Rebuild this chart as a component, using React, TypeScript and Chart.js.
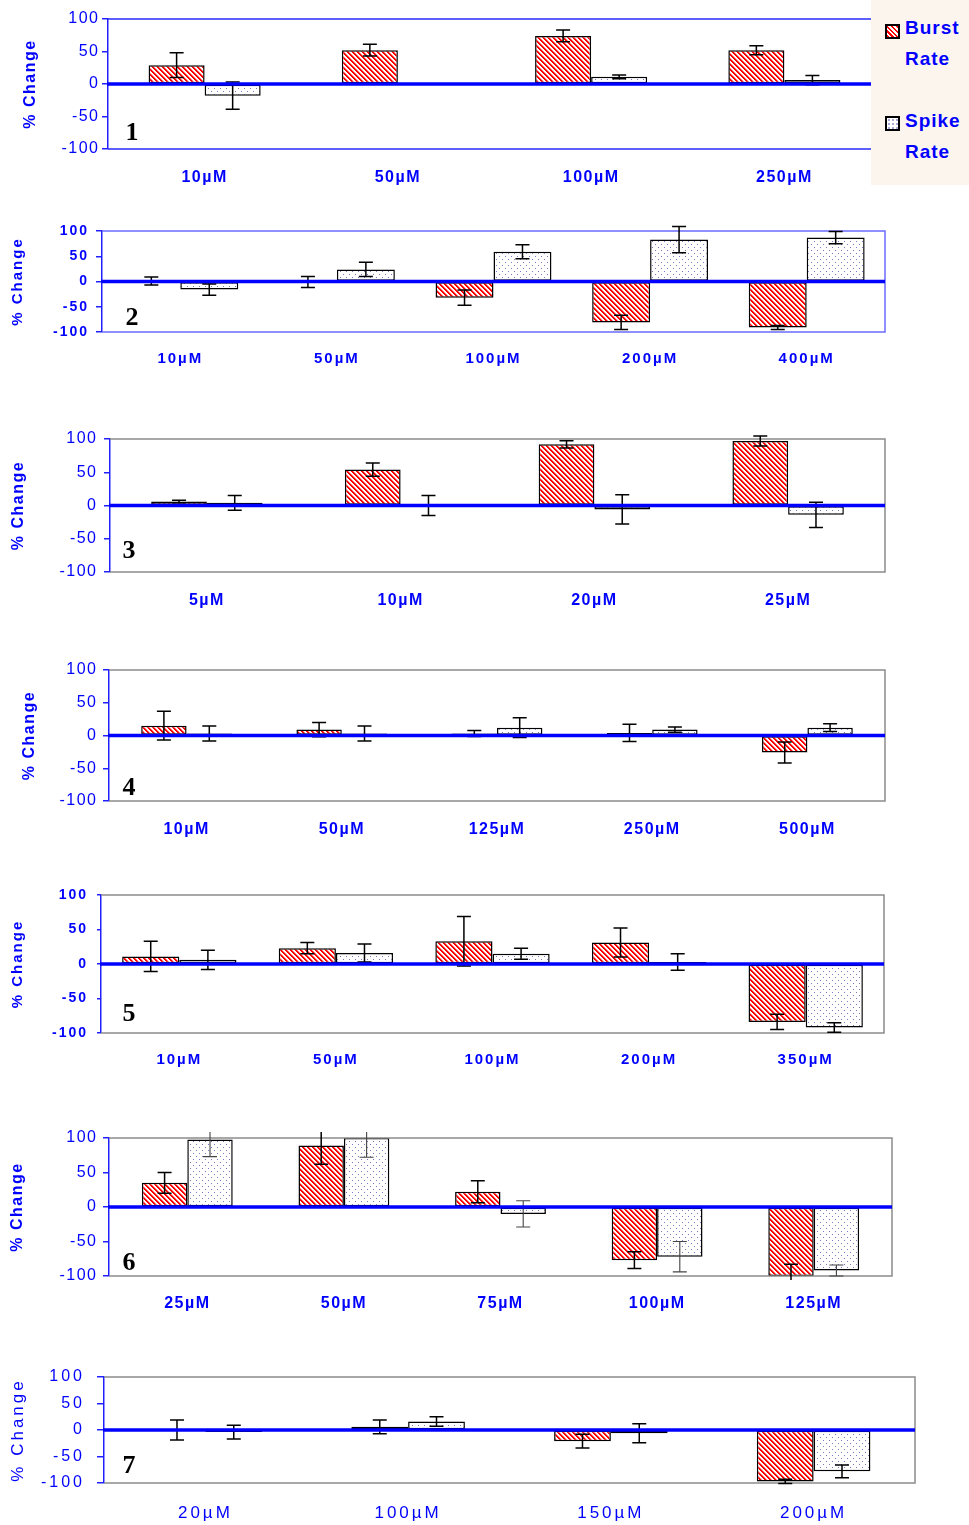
import React, { useEffect, useRef } from 'react';
import { Chart, registerables } from 'chart.js';

Chart.register(...registerables);

// ---- data -------------------------------------------------------------
const seriesNames = ['Burst Rate', 'Spike Rate'];
const yTickStep = 50;
const yMin = -100;
const yMax = 100;
const yTitle = '% Change';

// Panel 1
const doses1 = ['10µM', '50µM', '100µM', '250µM'];
const burst1 = [29, 52, 74, 52];
const burstErr1 = [19, 9, 9, 7];
const spike1 = [-18, 0, 11, 6];
const spikeErr1 = [21, 0, 3, 7];

// Panel 2
const doses2 = ['10µM', '50µM', '100µM', '200µM', '400µM'];
const burst2 = [1, -1, -32, -81, -91];
const burstErr2 = [8, 11, 15, 14, 4];
const spike2 = [-16, 24, 59, 83, 87];
const spikeErr2 = [11, 14, 14, 26, 12];

// Panel 3
const doses3 = ['5µM', '10µM', '20µM', '25µM'];
const burst3 = [6, 54, 92, 97];
const burstErr3 = [2, 10, 5.5, 7.5];
const spike3 = [4, 0, -6, -14];
const spikeErr3 = [11, 15, 22, 19];

// Panel 4
const doses4 = ['10µM', '50µM', '125µM', '250µM', '500µM'];
const burst4 = [15, 9, 3, 4, -26];
const burstErr4 = [22, 11, 4.5, 13, 16];
const spike4 = [3, 3, 12, 9, 12];
const spikeErr4 = [11.5, 11.5, 15, 4, 6];

// Panel 5
const doses5 = ['10µM', '50µM', '100µM', '200µM', '350µM'];
const burst5 = [11, 23, 33, 31, -84];
const burstErr5 = [22, 8, 36, 21, 11];
const spike5 = [6, 16, 15, 3, -92];
const spikeErr5 = [14, 13, 8, 12, 7];

// Panel 6
const doses6 = ['25µM', '50µM', '75µM', '100µM', '125µM'];
const burst6 = [35, 89, 22, -77, -100];
const burstErr6 = [15, 27, 16, 12, 17];
const spike6 = [98, 100, -10, -72, -92];
const spikeErr6 = [25, 28, 19, 22, 8];

// Panel 7
const doses7 = ['20µM', '100µM', '150µM', '200µM'];
const burst7 = [0, 6, -21, -97];
const burstErr7 = [19, 13, 13, 4];
const spike7 = [-4, 16, -6, -78];
const spikeErr7 = [13, 9, 18, 12];

// ---- styling / layout -------------------------------------------------
const BLUE = '#0000ff';
const AXIS_BLUE = '#2020ff';
const GRAY = '#8c8c8c';
const FONT = 'Arial, "Liberation Sans", Helvetica, sans-serif';
const PAGE_W = 969;

type Panel = {
  id: number;
  doses: string[];
  burst: number[];
  burstErr: number[];
  spike: number[];
  spikeErr: number[];
  top: number;
  height: number;
  left: number;
  plotTop: number;
  right: number;
  bottom: number;
  labelY: number;
  titleX: number;
  num: [number, number];
  frame: string;
  frameRight: boolean;
  tickSize: number;
  tickWeight: string;
  tickLen: number;
  tickRight: number;
  xSize: number;
  xWeight: string;
  titleSize: number;
  titleWeight: string;
  spacing: number;
  group: number;
  spikeErrColor: string;
  spikeErrWidth: number;
};

const panels: Panel[] = [
  {
    id: 1, doses: doses1, burst: burst1, burstErr: burstErr1, spike: spike1, spikeErr: spikeErr1,
    top: 0, height: 195, left: 108, plotTop: 19, right: 881, bottom: 149, labelY: 177,
    titleX: 31, num: [132, 133], frame: '#2b2bff', frameRight: false,
    tickSize: 16, tickWeight: 'normal', tickLen: 6, tickRight: 98,
    xSize: 16, xWeight: 'bold', titleSize: 16, titleWeight: 'bold', spacing: 1.5, group: 0.58,
    spikeErrColor: '#000', spikeErrWidth: 1.5,
  },
  {
    id: 2, doses: doses2, burst: burst2, burstErr: burstErr2, spike: spike2, spikeErr: spikeErr2,
    top: 195, height: 185, left: 102, plotTop: 231, right: 885, bottom: 332, labelY: 358,
    titleX: 18, num: [132, 318], frame: '#6b6bff', frameRight: true,
    tickSize: 14, tickWeight: 'bold', tickLen: 6, tickRight: 87,
    xSize: 15, xWeight: 'bold', titleSize: 15, titleWeight: 'bold', spacing: 2, group: 0.74,
    spikeErrColor: '#000', spikeErrWidth: 1.5,
  },
  {
    id: 3, doses: doses3, burst: burst3, burstErr: burstErr3, spike: spike3, spikeErr: spikeErr3,
    top: 380, height: 240, left: 110, plotTop: 439, right: 885, bottom: 572, labelY: 600,
    titleX: 19, num: [129, 551], frame: GRAY, frameRight: true,
    tickSize: 16, tickWeight: 'normal', tickLen: 6, tickRight: 96,
    xSize: 16, xWeight: 'bold', titleSize: 16, titleWeight: 'bold', spacing: 1.5, group: 0.575,
    spikeErrColor: '#000', spikeErrWidth: 1.5,
  },
  {
    id: 4, doses: doses4, burst: burst4, burstErr: burstErr4, spike: spike4, spikeErr: spikeErr4,
    top: 620, height: 230, left: 109, plotTop: 670, right: 885, bottom: 801, labelY: 829,
    titleX: 30, num: [129, 788], frame: GRAY, frameRight: true,
    tickSize: 16, tickWeight: 'normal', tickLen: 6, tickRight: 96,
    xSize: 16, xWeight: 'bold', titleSize: 16, titleWeight: 'bold', spacing: 1.5, group: 0.585,
    spikeErrColor: '#000', spikeErrWidth: 1.5,
  },
  {
    id: 5, doses: doses5, burst: burst5, burstErr: burstErr5, spike: spike5, spikeErr: spikeErr5,
    top: 850, height: 230, left: 101, plotTop: 895, right: 884, bottom: 1033, labelY: 1059,
    titleX: 18, num: [129, 1014], frame: GRAY, frameRight: true,
    tickSize: 14, tickWeight: 'bold', tickLen: 4, tickRight: 86,
    xSize: 15, xWeight: 'bold', titleSize: 15, titleWeight: 'bold', spacing: 2, group: 0.73,
    spikeErrColor: '#000', spikeErrWidth: 1.5,
  },
  {
    id: 6, doses: doses6, burst: burst6, burstErr: burstErr6, spike: spike6, spikeErr: spikeErr6,
    top: 1080, height: 245, left: 109, plotTop: 1138, right: 892, bottom: 1276, labelY: 1303,
    titleX: 18, num: [129, 1263], frame: GRAY, frameRight: true,
    tickSize: 16, tickWeight: 'normal', tickLen: 6, tickRight: 96,
    xSize: 16, xWeight: 'bold', titleSize: 16, titleWeight: 'bold', spacing: 1.5, group: 0.58,
    spikeErrColor: '#444', spikeErrWidth: 1.1,
  },
  {
    id: 7, doses: doses7, burst: burst7, burstErr: burstErr7, spike: spike7, spikeErr: spikeErr7,
    top: 1325, height: 200, left: 104, plotTop: 1377, right: 915, bottom: 1483, labelY: 1512,
    titleX: 18, num: [129, 1466], frame: GRAY, frameRight: true,
    tickSize: 16, tickWeight: 'normal', tickLen: 7, tickRight: 82,
    xSize: 17, xWeight: 'normal', titleSize: 17, titleWeight: 'normal', spacing: 3, group: 0.56,
    spikeErrColor: '#000', spikeErrWidth: 1.5,
  },
];

// ---- fill patterns ----------------------------------------------------
function makeHatch(): CanvasPattern | string {
  const s = 5;
  const c = document.createElement('canvas');
  c.width = s;
  c.height = s;
  const g = c.getContext('2d');
  if (!g) return '#ff0000';
  const img = g.createImageData(s, s);
  for (let y = 0; y < s; y++) {
    for (let x = 0; x < s; x++) {
      const d = (((x - y) % s) + s) % s;
      const i = (y * s + x) * 4;
      let r = 255, gg = 255, b = 255;
      if (d < 2) { r = 255; gg = 0; b = 0; }
      else if (d === 2) { r = 255; gg = 140; b = 140; }
      img.data[i] = r; img.data[i + 1] = gg; img.data[i + 2] = b; img.data[i + 3] = 255;
    }
  }
  g.putImageData(img, 0, 0);
  return g.createPattern(c, 'repeat') || '#ff0000';
}

function makeDots(): CanvasPattern | string {
  const s = 6;
  const c = document.createElement('canvas');
  c.width = s;
  c.height = s;
  const g = c.getContext('2d');
  if (!g) return '#ffffff';
  g.fillStyle = '#ffffff';
  g.fillRect(0, 0, s, s);
  g.fillStyle = '#7a7ac4';
  g.fillRect(1, 1, 1, 1);
  g.fillRect(4, 4, 1, 1);
  return g.createPattern(c, 'repeat') || '#ffffff';
}

// ---- one panel --------------------------------------------------------
function PanelChart({ p }: { p: Panel }) {
  const ref = useRef<HTMLCanvasElement | null>(null);

  useEffect(() => {
    const canvas = ref.current;
    if (!canvas) return;
    const hatch = makeHatch();
    const dots = makeDots();
    const errSets = [p.burstErr, p.spikeErr];
    const errStyle = [
      { color: '#000', width: 1.5 },
      { color: p.spikeErrColor, width: p.spikeErrWidth },
    ];
    const titleLine = p.titleSize * 1.2;

    const decor = {
      id: 'panelDecor' + p.id,
      beforeDraw(chart: any) {
        (chart.ctx as any).letterSpacing = p.spacing + 'px';
      },
      afterDatasetsDraw(chart: any) {
        const ctx = chart.ctx as CanvasRenderingContext2D;
        const area = chart.chartArea;
        const ys = chart.scales.y;

        // frame around the plot area
        ctx.save();
        ctx.strokeStyle = p.frame;
        ctx.lineWidth = 1.5;
        ctx.beginPath();
        ctx.moveTo(area.left, area.top);
        ctx.lineTo(area.right, area.top);
        if (p.frameRight) ctx.lineTo(area.right, area.bottom);
        else ctx.moveTo(area.right, area.bottom);
        ctx.lineTo(area.left, area.bottom);
        ctx.stroke();
        ctx.restore();

        // error bars
        ctx.save();
        ctx.beginPath();
        ctx.rect(area.left, area.top - 6, area.right - area.left, area.bottom - area.top + 10);
        ctx.clip();
        chart.data.datasets.forEach((ds: any, di: number) => {
          const meta = chart.getDatasetMeta(di);
          const errs = errSets[di];
          meta.data.forEach((el: any, j: number) => {
            const e = errs[j];
            if (!e) return;
            const v = ds.data[j] as number;
            const x = el.x;
            const y1 = ys.getPixelForValue(v + e);
            const y2 = ys.getPixelForValue(v - e);
            const cap = 7;
            ctx.strokeStyle = errStyle[di].color;
            ctx.lineWidth = errStyle[di].width;
            ctx.beginPath();
            ctx.moveTo(x, y1);
            ctx.lineTo(x, y2);
            ctx.moveTo(x - cap, y1);
            ctx.lineTo(x + cap, y1);
            ctx.moveTo(x - cap, y2);
            ctx.lineTo(x + cap, y2);
            ctx.stroke();
          });
        });
        ctx.restore();

        // zero line
        const y0 = ys.getPixelForValue(0);
        ctx.save();
        ctx.strokeStyle = BLUE;
        ctx.lineWidth = 3.5;
        ctx.beginPath();
        ctx.moveTo(area.left - 1, y0);
        ctx.lineTo(area.right, y0);
        ctx.stroke();
        ctx.restore();
      },
      afterDraw(chart: any) {
        const ctx = chart.ctx as CanvasRenderingContext2D;
        (ctx as any).letterSpacing = '0px';
        ctx.save();
        ctx.fillStyle = '#000';
        ctx.font = 'bold 26px "Liberation Serif", "Times New Roman", serif';
        ctx.textAlign = 'center';
        ctx.textBaseline = 'middle';
        ctx.fillText(String(p.id), p.num[0], p.num[1] - p.top);
        ctx.restore();
      },
    };

    const chart = new Chart(canvas, {
      type: 'bar',
      data: {
        labels: p.doses,
        datasets: [
          {
            label: seriesNames[0],
            data: p.burst,
            backgroundColor: hatch as any,
            borderColor: '#000',
            borderWidth: 1.5,
            borderSkipped: false,
          },
          {
            label: seriesNames[1],
            data: p.spike,
            backgroundColor: dots as any,
            borderColor: '#000',
            borderWidth: 1.5,
            borderSkipped: false,
          },
        ],
      },
      options: {
        responsive: false,
        animation: false,
        events: [],
        layout: {
          padding: { left: 0, top: p.plotTop - p.top, right: PAGE_W - p.right, bottom: 0 },
        },
        datasets: { bar: { categoryPercentage: p.group, barPercentage: 1 } },
        plugins: {
          legend: { display: false },
          tooltip: { enabled: false },
          title: { display: false },
        },
        scales: {
          x: {
            grid: { display: false },
            border: { display: false },
            ticks: {
              color: BLUE,
              autoSkip: false,
              maxRotation: 0,
              minRotation: 0,
              padding: p.labelY - p.bottom - (p.xSize * 1.2) / 2 - 7,
              font: { family: FONT, size: p.xSize, weight: p.xWeight as any },
            },
            afterFit: (s: any) => {
              s.height = p.top + p.height - p.bottom;
            },
          },
          y: {
            min: yMin,
            max: yMax,
            grid: {
              drawOnChartArea: false,
              drawTicks: true,
              tickLength: p.tickLen,
              color: AXIS_BLUE,
              lineWidth: 1.5,
            },
            border: { display: true, color: AXIS_BLUE, width: 1.5 },
            ticks: {
              stepSize: yTickStep,
              color: BLUE,
              padding: p.left - p.tickLen - p.tickRight - p.spacing,
              font: { family: FONT, size: p.tickSize, weight: p.tickWeight as any },
            },
            title: {
              display: true,
              text: yTitle,
              color: BLUE,
              font: { family: FONT, size: p.titleSize, weight: p.titleWeight as any },
              padding: { top: p.titleX - titleLine / 2, bottom: 0 },
            },
            afterFit: (s: any) => {
              s.width = p.left;
            },
          },
        },
      },
      plugins: [decor],
    });

    return () => chart.destroy();
  }, [p]);

  return (
    <canvas
      ref={ref}
      width={PAGE_W}
      height={p.height}
      style={{ position: 'absolute', left: 0, top: p.top, width: PAGE_W, height: p.height }}
    />
  );
}

// ---- legend -----------------------------------------------------------
const legendText: React.CSSProperties = {
  position: 'absolute',
  left: 34,
  fontFamily: FONT,
  fontWeight: 'bold',
  fontSize: 19,
  lineHeight: '31px',
  letterSpacing: '1px',
  color: BLUE,
  whiteSpace: 'nowrap',
};

const swatchBase: React.CSSProperties = {
  position: 'absolute',
  left: 14,
  width: 15,
  height: 15,
  boxSizing: 'border-box',
  border: '2px solid #000',
};

function Legend() {
  const [burstA, burstB] = seriesNames[0].split(' ');
  const [spikeA, spikeB] = seriesNames[1].split(' ');
  return (
    <div
      style={{
        position: 'absolute',
        left: 871,
        top: 0,
        width: 98,
        height: 185,
        background: '#fcf5ee',
        zIndex: 2,
      }}
    >
      <div
        style={{
          ...swatchBase,
          top: 24,
          background: 'repeating-linear-gradient(45deg, #ff0000 0px, #ff0000 1.6px, #ffffff 1.6px, #ffffff 3.4px)',
        }}
      />
      <div style={{ ...legendText, top: 12 }}>
        {burstA}
        <br />
        {burstB}
      </div>
      <div
        style={{
          ...swatchBase,
          top: 116,
          backgroundColor: '#ffffff',
          backgroundImage: 'radial-gradient(#7a7ac4 0.6px, transparent 0.9px)',
          backgroundSize: '4px 4px',
        }}
      />
      <div style={{ ...legendText, top: 105 }}>
        {spikeA}
        <br />
        {spikeB}
      </div>
    </div>
  );
}

export default function App() {
  return (
    <div
      style={{
        position: 'absolute',
        left: 0,
        top: 0,
        width: PAGE_W,
        height: 1525,
        background: '#ffffff',
        overflow: 'hidden',
      }}
    >
      {panels.map((p) => (
        <PanelChart key={p.id} p={p} />
      ))}
      <Legend />
    </div>
  );
}
